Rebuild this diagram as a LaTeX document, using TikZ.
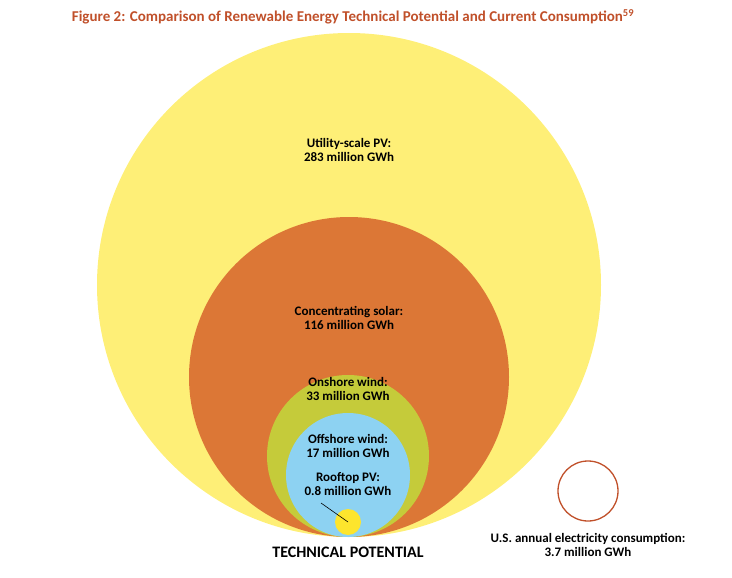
\documentclass[tikz,border=0pt]{standalone}
\usepackage{fontspec}
\setmainfont{Carlito}
\usepackage{tikz}

\definecolor{pvyellow}{HTML}{FEEF77}
\definecolor{csporange}{HTML}{DC7736}
\definecolor{windgreen}{HTML}{C5CB3A}
\definecolor{seablue}{HTML}{8DD2F2}
\definecolor{roofyellow}{HTML}{FDE52D}
\definecolor{titlered}{HTML}{C0502A}

\begin{document}
\begin{tikzpicture}[
			 x=1pt, y=-1pt,
			 every node/.style={align=center, font=\bfseries\fontsize{13}{14}\selectfont},
			 bubble/.style={circle, draw=none, inner sep=0pt},
			 to/.style={semithick}
			 ]
			 \useasboundingbox (0,0) rectangle (732,578);

			 % nested potentials, all resting on one base line
			 \node[bubble, fill=pvyellow, minimum size=504pt] (utility) at (349,285) {};
			 \node[bubble, fill=csporange, minimum size=320pt] (csp) at (349,377) {};
			 \node[bubble, fill=windgreen, minimum size=162pt] (onshore) at (348,456) {};
			 \node[bubble, fill=seablue, minimum size=124pt] (offshore) at (348,475) {};
			 \node[bubble, fill=roofyellow, minimum size=26pt] (rooftop) at (348,522) {};
			 \node[bubble, draw=titlered, line width=1.3pt, minimum size=60pt] (usa) at (588,491) {};

			 \node[text=titlered, font=\bfseries\fontsize{15}{16}\selectfont] (title) at (353,17) {Figure 2: Comparison of Renewable Energy Technical Potential and Current Consumption\textsuperscript{59}};
			 \node (utilitytext) at (349,150) {Utility-scale PV:\\283 million GWh};
			 \node (csptext) at (349,318) {Concentrating solar:\\116 million GWh};
			 \node (onshoretext) at (348,389) {Onshore wind:\\33 million GWh};
			 \node (offshoretext) at (348,446) {Offshore wind:\\17 million GWh};
			 \node (rooftoptext) at (348,484) {Rooftop PV:\\0.8 million GWh};
			 \node[font=\bfseries\fontsize{16}{18}\selectfont] (techtext) at (348,552) {TECHNICAL POTENTIAL};
			 \node (usatext) at (588,545) {U.S. annual electricity consumption:\\3.7 million GWh};

			 \coordinate (pointer) at (321,503);
			 \draw[to] (pointer) -- (rooftop.center);

		\end{tikzpicture}
\end{document}
